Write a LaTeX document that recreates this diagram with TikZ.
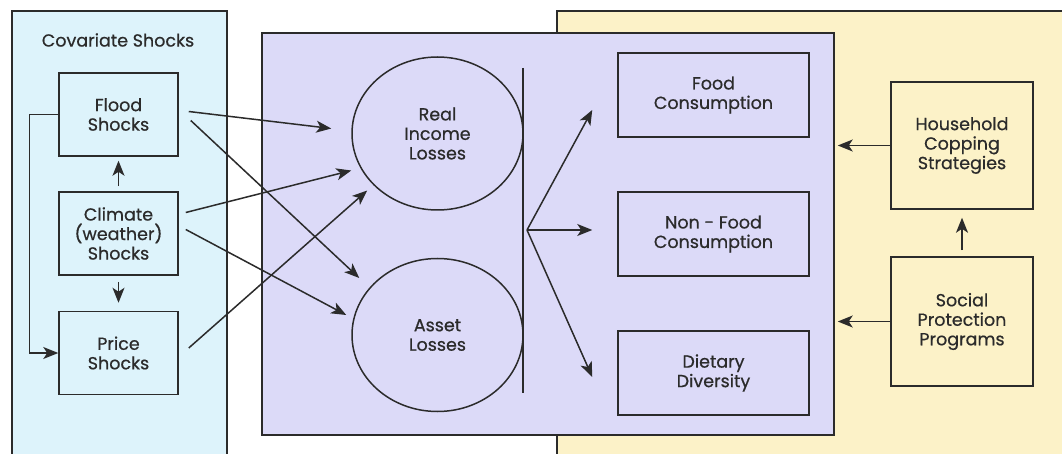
\documentclass[tikz,border=0pt]{standalone}
\usepackage{fontspec}
\setmainfont{Poppins}[FakeBold=0.6]
\usetikzlibrary{arrows.meta,shapes.geometric}
\definecolor{panelblue}{HTML}{DDF3FB}
\definecolor{panelviolet}{HTML}{DCDAF8}
\definecolor{panelyellow}{HTML}{FCF2C8}
\definecolor{ink}{HTML}{2B2B2B}
\begin{document}
\begin{tikzpicture}[x=1pt,y=-1pt,font=\fontsize{17.5}{19.5}\selectfont,text=ink,
  box/.style={draw=ink,line width=1.5pt,align=center,inner sep=0pt,minimum width=119pt,minimum height=83pt},
  outbox/.style={box,minimum width=191pt,minimum height=84pt},
  sidebox/.style={box,minimum width=142pt,minimum height=128pt},
  loss/.style={ellipse,draw=ink,line width=1.5pt,align=center,inner sep=0pt,minimum width=171pt,minimum height=153pt},
  arr/.style={-{Stealth[length=15pt,width=12pt,inset=4pt]},ink,line width=1.5pt}]
  \useasboundingbox (0,0) rectangle (1062,454);
  \fill[white] (0,0) rectangle (1062,454);
  % panels
  \fill[panelblue] (12,11) rectangle (227,454);
  \draw[ink,line width=1.5pt] (12,454) -- (12,11) -- (227,11) -- (227,454);
  \fill[panelyellow] (557,11) rectangle (1062,454);
  \draw[ink,line width=1.5pt] (557,454) -- (557,11) -- (1062,11);
  \node[draw=ink,line width=1.5pt,fill=panelviolet,minimum width=572pt,minimum height=402pt] (mid) at (548,234) {};
  % covariate shocks
  \node (title) at (118,40) {Covariate Shocks};
  \node[box] (flood) at (118.5,114.5) {Flood\\Shocks};
  \node[box] (climate) at (118.5,233.5) {Climate\\(weather)\\Shocks};
  \node[box] (price) at (118.5,353) {Price\\Shocks};
  \draw[arr,shorten <=5pt,shorten >=4pt] (climate.north) -- (flood.south);
  \draw[arr,shorten <=6pt,shorten >=8pt] (climate.south) -- (price.north);
  \draw[arr] (flood.west) -- ++(-29,0) |- (price.west);
  % losses
  \node[loss] (real) at (437.5,133.5) {Real\\Income\\Losses};
  \node[loss] (asset) at (437.5,335) {Asset\\Losses};
  \draw[arr] ([xshift=10pt,yshift=3pt]flood.east) -- ([xshift=-20pt,yshift=5pt]real.west);
  \draw[arr] ([xshift=12pt,yshift=-6pt]flood.east) -- ([xshift=8pt,yshift=57pt]asset.west);
  \draw[arr] ([xshift=7pt,yshift=21pt]climate.east) -- ([yshift=-37pt]real.west);
  \draw[arr] ([xshift=7pt,yshift=4pt]climate.east) -- ([xshift=-5pt,yshift=20pt]asset.west);
  \draw[arr] ([xshift=10pt,yshift=5pt]price.east) -- ([xshift=16pt,yshift=-57pt]real.west);
  % outcomes
  \coordinate (bartop) at (523,68);
  \coordinate (barbot) at (523,393);
  \coordinate (branch) at (527,230);
  \draw[ink,line width=1.3pt] (bartop) -- (barbot);
  \node[outbox] (food) at (713.5,95) {Food\\Consumption};
  \node[outbox] (nonfood) at (713.5,234) {Non - Food\\Consumption};
  \node[outbox] (diet) at (713.5,373) {Dietary\\Diversity};
  \draw[arr] (branch) -- ([xshift=-25pt,yshift=-15pt]food.west);
  \draw[arr,shorten >=25pt] (branch) -- (branch -| nonfood.west);
  \draw[arr] (branch) -- ([xshift=-25pt,yshift=-4pt]diet.west);
  % coping and protection
  \node[sidebox,minimum height=127pt] (coping) at (962,145.5) {Household\\Copping\\Strategies};
  \node[sidebox,minimum height=129pt] (social) at (962,321.5) {Social\\Protection\\Programs};
  \draw[arr,shorten <=6pt,shorten >=8pt] (social.north) -- (coping.south);
  \draw[arr,shorten >=3pt] (coping.west) -- (coping.west -| mid.east);
  \draw[arr,shorten >=3pt] (social.west) -- (social.west -| mid.east);
\end{tikzpicture}
\end{document}
